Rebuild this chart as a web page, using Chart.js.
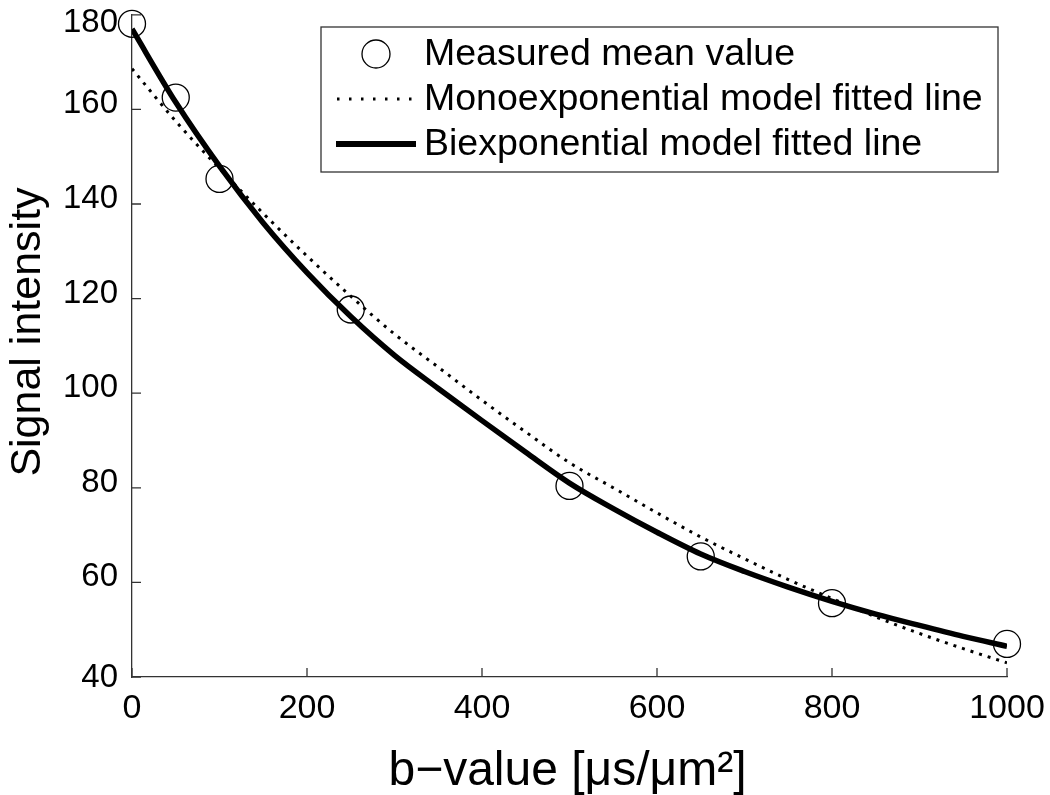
<!DOCTYPE html>
<html>
<head>
<meta charset="utf-8">
<script src="https://cdn.jsdelivr.net/npm/chart.js@4.4.1/dist/chart.umd.min.js"></script>
<style>
  html, body { margin: 0; padding: 0; background: #fff; }
  #wrap { width: 1050px; height: 795px; }
</style>
</head>
<body>
<div id="wrap"><canvas id="myChart" width="1050" height="795"></canvas></div>
<script>
// measured points
const bValues = [0, 50, 100, 250, 500, 650, 800, 1000]
const measured = [178.1, 162.5, 145.3, 117.7, 80.4, 65.5, 55.6, 47.0]

// fitted lines
const curveB = [0, 50, 100, 150, 200, 250, 300, 350, 400, 450, 500, 550, 600, 650, 700, 750, 800, 850, 900, 950, 1000]
const monoFit = [168.6, 157.5, 147.5, 138.0, 129.0, 120.5, 112.5, 105.5, 98.5, 91.8, 85.3, 80.0, 74.7, 69.6, 65.0, 60.6, 56.6, 52.7, 49.2, 46.0, 43.0]
const biFit = [177.0, 161.5, 148.0, 136.0, 125.5, 116.2, 108.0, 101.0, 94.2, 87.5, 81.0, 75.6, 70.6, 66.0, 62.3, 59.0, 56.0, 53.3, 50.9, 48.6, 46.5]

const xTicks = [0, 200, 400, 600, 800, 1000]
const yTicks = [40, 60, 80, 100, 120, 140, 160, 180]

const legendLabels = ['Measured mean value', 'Monoexponential model fitted line', 'Biexponential model fitted line']
const xTitle = 'b\u2212value [\u03bcs/\u03bcm\u00b2]'
const yTitle = 'Signal intensity'

const FONT = '"Liberation Sans", Arial, Helvetica, sans-serif'

const toXY = (xs, ys) => xs.map((x, i) => ({ x: x, y: ys[i] }))

// inward ticks (matlab style), y tick labels and axis titles
const axisExtras = {
    id: 'axisExtras',
    afterDatasetsDraw(chart) {
        const ctx = chart.ctx
        const xs = chart.scales.x
        const ys = chart.scales.y
        const area = chart.chartArea
        ctx.save()
        ctx.strokeStyle = '#333'
        ctx.lineWidth = 1.3
        ctx.beginPath()
        xTicks.forEach(v => {
            const px = xs.getPixelForValue(v)
            ctx.moveTo(px, area.bottom)
            ctx.lineTo(px, area.bottom - 9)
        })
        yTicks.forEach(v => {
            const py = ys.getPixelForValue(v)
            ctx.moveTo(area.left, py)
            ctx.lineTo(area.left + 9, py)
        })
        ctx.stroke()

        // y tick labels, end labels kept inside the canvas like matlab does
        ctx.fillStyle = '#000'
        ctx.font = '33px ' + FONT
        ctx.textAlign = 'right'
        ctx.textBaseline = 'middle'
        yTicks.forEach((v, i) => {
            let py = ys.getPixelForValue(v) - 5
            if (i === yTicks.length - 1) py = ys.getPixelForValue(v) + 8
            if (i === 0) py = ys.getPixelForValue(v) + 1
            ctx.fillText(String(v), area.left - 14, py)
        })

        ctx.textAlign = 'center'
        ctx.textBaseline = 'alphabetic'
        ctx.font = '48px ' + FONT
        ctx.fillText(xTitle, (area.left + area.right) / 2 - 2, 785)

        ctx.translate(40, 332)
        ctx.rotate(-Math.PI / 2)
        ctx.font = '43px ' + FONT
        ctx.fillText(yTitle, 0, 0)
        ctx.restore()
    }
}

// legend box drawn inside the plot
const boxLegend = {
    id: 'boxLegend',
    afterDraw(chart) {
        const ctx = chart.ctx
        const x0 = 321, y0 = 27, w = 677, h = 145
        ctx.save()
        ctx.fillStyle = '#fff'
        ctx.fillRect(x0, y0, w, h)
        ctx.strokeStyle = '#333'
        ctx.lineWidth = 1.3
        ctx.strokeRect(x0, y0, w, h)

        const rows = [54, 99, 144]
        // marker
        ctx.strokeStyle = '#000'
        ctx.lineWidth = 1.3
        ctx.beginPath()
        ctx.arc(376, rows[0], 14, 0, Math.PI * 2)
        ctx.stroke()
        // dotted
        ctx.lineWidth = 3
        ctx.setLineDash([2.5, 9.5])
        ctx.beginPath()
        ctx.moveTo(337, rows[1])
        ctx.lineTo(416, rows[1])
        ctx.stroke()
        // solid
        ctx.setLineDash([])
        ctx.lineWidth = 6
        ctx.beginPath()
        ctx.moveTo(336, rows[2])
        ctx.lineTo(416, rows[2])
        ctx.stroke()

        ctx.fillStyle = '#000'
        ctx.font = '37.5px ' + FONT
        ctx.textBaseline = 'middle'
        ctx.textAlign = 'left'
        legendLabels.forEach((t, i) => ctx.fillText(t, 424, rows[i] + 1))
        ctx.restore()
    }
}

const dataChart = {
    datasets: [{
        label: legendLabels[0],
        data: toXY(bValues, measured),
        showLine: false,
        pointStyle: 'circle',
        pointRadius: 13.5,
        pointBorderWidth: 1.3,
        pointBorderColor: '#000',
        pointBackgroundColor: 'rgba(0,0,0,0)',
        clip: false,
        order: 0
    }, {
        label: legendLabels[1],
        data: toXY(curveB, monoFit),
        showLine: true,
        borderColor: '#000',
        borderWidth: 3,
        borderDash: [3, 6],
        pointRadius: 0,
        cubicInterpolationMode: 'monotone',
        order: 2
    }, {
        label: legendLabels[2],
        data: toXY(curveB, biFit),
        showLine: true,
        borderColor: '#000',
        borderWidth: 5.5,
        pointRadius: 0,
        cubicInterpolationMode: 'monotone',
        order: 1
    }]
}

const config = {
    type: 'scatter',
    data: dataChart,
    options: {
        responsive: false,
        animation: false,
        layout: { padding: { top: 13, right: 43, left: 0, bottom: 0 } },
        plugins: { legend: { display: false }, tooltip: { enabled: false } },
        scales: {
            x: {
                type: 'linear',
                min: 0, max: 1000,
                afterBuildTicks: s => { s.ticks = xTicks.map(v => ({ value: v })) },
                afterFit: s => { s.height = 118; s.paddingLeft = 0; s.paddingRight = 0 },
                grid: { display: false, drawTicks: false },
                border: { display: true, color: '#333', width: 1.3 },
                ticks: { color: '#000', font: { family: FONT, size: 34 }, padding: 11, maxRotation: 0, callback: v => String(v) }
            },
            y: {
                type: 'linear',
                min: 40, max: 180,
                afterBuildTicks: s => { s.ticks = yTicks.map(v => ({ value: v })) },
                afterFit: s => { s.width = 132; s.paddingTop = 0; s.paddingBottom = 0 },
                grid: { display: false, drawTicks: false },
                border: { display: true, color: '#333', width: 1.3 },
                ticks: { display: false }
            }
        }
    },
    plugins: [axisExtras, boxLegend]
}

const myChart = new Chart(document.getElementById('myChart'), config)
</script>
</body>
</html>
